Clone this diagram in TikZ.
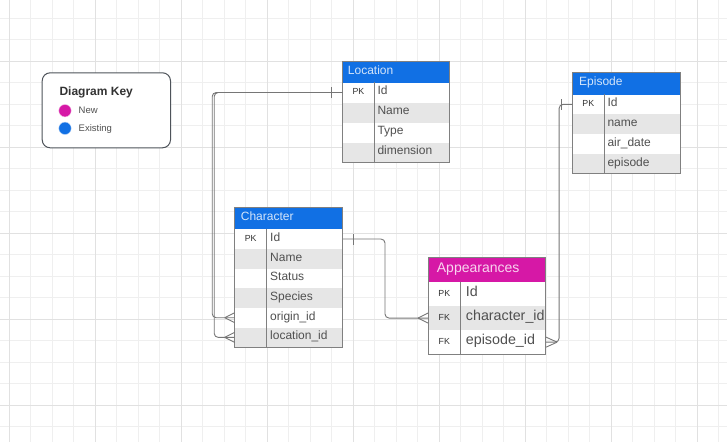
\documentclass[tikz,border=0pt]{standalone}
\usepackage{fontspec}
\setmainfont{Liberation Sans}
\usetikzlibrary{calc}
\definecolor{hblue}{RGB}{17,112,228}
\definecolor{hmag}{RGB}{214,24,166}
\definecolor{rowgrey}{RGB}{230,230,230}
\definecolor{tborder}{RGB}{128,128,128}
\definecolor{txt}{RGB}{80,80,80}
\definecolor{keytxtcol}{RGB}{50,50,50}
\definecolor{gridlight}{RGB}{239,239,239}
\definecolor{griddark}{RGB}{225,225,225}
\definecolor{conncol}{RGB}{118,118,118}
\definecolor{keyborder}{RGB}{78,83,90}
\begin{document}
\begin{tikzpicture}[x=1pt,y=-1pt,
  hdrbox/.style={draw=none, inner sep=0pt, anchor=north west},
  rowbox/.style={draw=none, inner sep=0pt, anchor=north west},
  hdrtxt/.style={inner sep=0pt, anchor=mid west, text=white!82!hblue, font=\fontsize{12}{14}\selectfont},
  hdrtxtm/.style={inner sep=0pt, anchor=mid west, text=white!82!hmag, font=\fontsize{14}{16}\selectfont},
  fieldtxt/.style={inner sep=0pt, anchor=mid west, text=txt, font=\fontsize{12}{14}\selectfont},
  fieldtxtl/.style={inner sep=0pt, anchor=mid west, text=txt, font=\fontsize{14.3}{16}\selectfont},
  keytxt/.style={inner sep=0pt, anchor=mid, text=keytxtcol, font=\fontsize{8.8}{10}\selectfont},
  frame/.style={draw=tborder, line width=0.9pt},
  conn/.style={draw=conncol, line width=0.9pt, rounded corners=4pt},
  endmark/.style={draw=conncol, line width=0.9pt},
  gl/.style={draw=gridlight, line width=0.9pt},
  gd/.style={draw=griddark, line width=0.9pt}
]
\useasboundingbox (0,0) rectangle (727,442);
\fill[white] (0,0) rectangle (727,442);
% grid
\foreach \i in {0,...,33} \draw[gl] ({9.3+21.5*\i},0) -- ({9.3+21.5*\i},442);
\foreach \j in {0,...,19} \draw[gl] (0,{18.3+21.5*\j}) -- (727,{18.3+21.5*\j});
\foreach \i in {0,...,8} \draw[gd] ({9.3+86*\i},0) -- ({9.3+86*\i},442);
\foreach \j in {0,...,4} \draw[gd] (0,{61.3+86*\j}) -- (727,{61.3+86*\j});

% Diagram key
\node[draw=keyborder, fill=white, line width=1pt, rounded corners=8pt, inner sep=0pt,
      minimum width=128.3pt, minimum height=75pt, anchor=north west] (key) at (41.7,72.3) {};
\node[inner sep=0pt, anchor=base west, text=keytxtcol, font=\bfseries\fontsize{12}{14}\selectfont] (keytitle) at (59.3,95.6) {Diagram Key};
\node[circle, fill=hmag, draw=white!70!hmag, line width=0.4pt, minimum size=12.4pt, inner sep=0pt] (keynew) at (65,110.7) {};
\node[circle, fill=hblue, draw=white!70!hblue, line width=0.4pt, minimum size=12.4pt, inner sep=0pt] (keyold) at (65,128.3) {};
\node[inner sep=0pt, anchor=base west, text=txt, font=\fontsize{9.5}{11}\selectfont] (keynewt) at (78.5,113.8) {New};
\node[inner sep=0pt, anchor=base west, text=txt, font=\fontsize{9.5}{11}\selectfont] (keyoldt) at (78.5,131.4) {Existing};

% Location table
\node[hdrbox, fill=hblue, minimum width=106.8pt, minimum height=21.3pt] (loc) at (342.5,61) {};
\node[hdrtxt] (loct) at (347.7,71.6) {Location};
\foreach \k/\f/\c [count=\i from 0] in {PK/Id/white,{}/Name/rowgrey,{}/Type/white,{}/dimension/rowgrey}{
  \node[rowbox, fill=\c, minimum width=106.8pt, minimum height=20pt] (loc-\i) at (342.5,{82.3+20*\i}) {};
  \node[keytxt] (loc-k\i) at (358.4,{92.3+20*\i}) {\k};
  \node[fieldtxt] (loc-f\i) at (377.3,{92.3+20*\i}) {\f};
}
\draw[frame] (342.5,61) rectangle (449.3,162.3);
\draw[frame] (374.3,82.3) -- (374.3,162.3);

% Episode table
\node[hdrbox, fill=hblue, minimum width=107.7pt, minimum height=22pt] (epi) at (572.3,72.3) {};
\node[hdrtxt] (epit) at (579,83.3) {Episode};
\foreach \k/\f/\c [count=\i from 0] in {PK/Id/white,{}/name/rowgrey,{}/air\_date/white,{}/episode/rowgrey}{
  \node[rowbox, fill=\c, minimum width=107.7pt, minimum height=19.75pt] (epi-\i) at (572.3,{94.3+19.75*\i}) {};
  \node[keytxt] (epi-k\i) at (588.3,{104.2+19.75*\i}) {\k};
  \node[fieldtxt] (epi-f\i) at (607.3,{104.2+19.75*\i}) {\f};
}
\draw[frame] (572.3,72.3) rectangle (680,173.3);
\draw[frame] (604.3,94.3) -- (604.3,173.3);

% Character table
\node[hdrbox, fill=hblue, minimum width=108pt, minimum height=21.7pt] (chr) at (234.7,207.3) {};
\node[hdrtxt] (chrt) at (240.7,218.2) {Character};
\foreach \k/\f/\c [count=\i from 0] in {PK/Id/white,{}/Name/rowgrey,{}/Status/white,{}/Species/rowgrey,{}/origin\_id/white,{}/location\_id/rowgrey}{
  \node[rowbox, fill=\c, minimum width=108pt, minimum height=19.67pt] (chr-\i) at (234.7,{229+19.67*\i}) {};
  \node[keytxt] (chr-k\i) at (250.7,{238.8+19.67*\i}) {\k};
  \node[fieldtxt] (chr-f\i) at (270,{238.8+19.67*\i}) {\f};
}
\draw[frame] (234.7,207.3) rectangle (342.7,347);
\draw[frame] (266.7,229) -- (266.7,347);

% Appearances table
\node[hdrbox, fill=hmag, minimum width=117.7pt, minimum height=24.4pt] (app) at (428,257.3) {};
\node[hdrtxtm] (appt) at (436.7,269.5) {Appearances};
\foreach \k/\f/\c [count=\i from 0] in {PK/Id/white,FK/character\_id/rowgrey,FK/episode\_id/white}{
  \node[rowbox, fill=\c, minimum width=117.7pt, minimum height=24.1pt] (app-\i) at (428,{281.7+24.1*\i}) {};
  \node[keytxt] (app-k\i) at (444.3,{293.75+24.1*\i}) {\k};
  \node[fieldtxtl] (app-f\i) at (465.7,{293.75+24.1*\i}) {\f};
}
\draw[frame] (428,257.3) rectangle (545.7,354);
\draw[frame] (460.7,281.7) -- (460.7,354);

% Connectors
\draw[conn] (loc-0.west) -| ([xshift=-22.5pt]chr-4.west) -- (chr-4.west);
\draw[conn] (loc-0.west) -| ([xshift=-20.5pt]chr-5.west) -- (chr-5.west);
\draw[conn] (chr-0.east) -| ([xshift=-43pt]app-1.west) -- (app-1.west);
\draw[conn] (epi-0.west) -| ([xshift=13pt]app-2.east) -- (app-2.east);

% one ticks
\draw[endmark] ([xshift=-11pt,yshift=-5.5pt]loc-0.west) -- ([xshift=-11pt,yshift=5.5pt]loc-0.west);
\draw[endmark] ([xshift=10.6pt,yshift=-5.5pt]chr-0.east) -- ([xshift=10.6pt,yshift=5.5pt]chr-0.east);
\draw[endmark] ([xshift=-10.6pt,yshift=-5.5pt]epi-0.west) -- ([xshift=-10.6pt,yshift=5.5pt]epi-0.west);

% crow's feet
\foreach \n in {chr-4,chr-5,app-1}{
  \draw[endmark] ([xshift=-10pt]\n.west) -- ([yshift=5pt]\n.west)
                 ([xshift=-10pt]\n.west) -- ([yshift=-5pt]\n.west);
}
\draw[endmark] ([xshift=11pt]app-2.east) -- ([yshift=5pt]app-2.east)
               ([xshift=11pt]app-2.east) -- ([yshift=-5pt]app-2.east);
\end{tikzpicture}
\end{document}
